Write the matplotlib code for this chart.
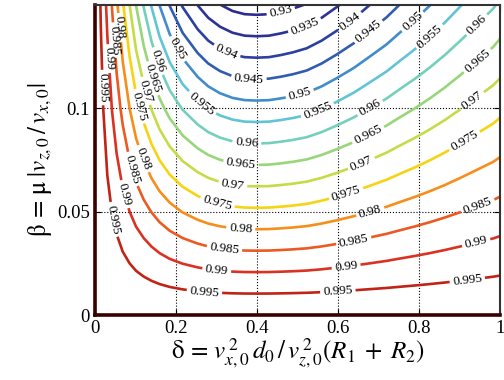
import numpy as np
import matplotlib
matplotlib.use("Agg")
import matplotlib.pyplot as plt

plt.rcParams['font.family'] = 'Liberation Serif'
plt.rcParams['mathtext.fontset'] = 'stix'

delta = [0.0, 0.008, 0.015, 0.031, 0.043, 0.054, 0.069, 0.086, 0.102, 0.121,
         0.140, 0.160, 0.185, 0.217, 0.254, 0.280, 0.309, 0.340, 0.370, 0.400,
         0.430, 0.460, 0.490, 0.523, 0.560, 0.598, 0.640, 0.683, 0.720, 0.753,
         0.790, 0.827, 0.864, 0.901, 0.940, 0.983, 1.0]
# drop of the ratio per unit beta at those delta values
slope = [0.0, 0.019, 0.036, 0.074, 0.102, 0.128, 0.163, 0.200, 0.234, 0.269,
         0.302, 0.334, 0.368, 0.403, 0.434, 0.452, 0.466, 0.476, 0.481, 0.482,
         0.481, 0.477, 0.472, 0.465, 0.452, 0.436, 0.418, 0.398, 0.382, 0.366,
         0.350, 0.334, 0.318, 0.302, 0.286, 0.270, 0.262]
beta = [0.0, 0.05, 0.10, 0.15]

levels = [0.93, 0.935, 0.94, 0.945, 0.95, 0.955, 0.96, 0.965, 0.97, 0.975,
          0.98, 0.985, 0.99, 0.995]
colors = ['#2e2a92', '#2c3394', '#2b40a0', '#305cb2', '#428ccc', '#62c4d6',
          '#74d0bc', '#98d67a', '#c4dc48', '#f6d414', '#f68e1c', '#ec5a22',
          '#da3222', '#c02416']

# where the inline labels sit on each contour
label_pos = {
    0.93: [(0.46, 0.146)],
    0.935: [(0.52, 0.139)],
    0.94: [(0.32, 0.125), (0.63, 0.142)],
    0.945: [(0.38, 0.113), (0.68, 0.136)],
    0.95: [(0.217, 0.13), (0.506, 0.107), (0.78, 0.143)],
    0.955: [(0.25, 0.099), (0.55, 0.099), (0.83, 0.134)],
    0.96: [(0.143, 0.122), (0.375, 0.082), (0.68, 0.100), (0.94, 0.141)],
    0.965: [(0.136, 0.114), (0.36, 0.072), (0.67, 0.089), (0.94, 0.124)],
    0.97: [(0.119, 0.108), (0.34, 0.062), (0.65, 0.077), (0.93, 0.104)],
    0.975: [(0.111, 0.101), (0.30, 0.0525), (0.62, 0.059), (0.91, 0.085)],
    0.98: [(0.057, 0.139), (0.111, 0.075), (0.36, 0.041), (0.68, 0.050)],
    0.985: [(0.05, 0.133), (0.082, 0.070), (0.32, 0.032), (0.64, 0.035),
            (0.945, 0.053)],
    0.99: [(0.032, 0.124), (0.066, 0.058), (0.30, 0.020), (0.62, 0.024),
           (0.94, 0.036)],
    0.995: [(0.012, 0.11), (0.041, 0.046), (0.27, 0.010), (0.6, 0.0115),
            (0.92, 0.016)],
}

Z = 1 - np.outer(beta, slope)

fig = plt.figure(figsize=(5.04, 3.8), dpi=100)
ax = fig.add_axes([0.188, 0.171, 0.804, 0.816])

for lev, col in zip(levels, colors):
    cs = ax.contour(delta, beta, Z, levels=[lev], colors=[col], linewidths=1.9)
    ax.clabel(cs, manual=label_pos[lev], fmt='%g', fontsize=9.5,
              colors='k', inline=True, inline_spacing=3)

ax.set_xlim(0, 1)
ax.set_ylim(0, 0.15)
ax.set_xticks([0, 0.2, 0.4, 0.6, 0.8, 1])
ax.set_xticklabels(['0', '0.2', '0.4', '0.6', '0.8', '1'])
ax.set_yticks([0, 0.05, 0.1])
ax.set_yticklabels(['0', '0.05', '0.1'])
ax.tick_params(direction='in', top=True, right=True, length=4, labelsize=13.5)
ax.grid(True, linestyle=':', color='k', linewidth=0.8)

for side in ['left', 'bottom']:
    ax.spines[side].set_linewidth(2.6)
    ax.spines[side].set_color('#3a0000')
for side in ['top', 'right']:
    ax.spines[side].set_linewidth(1.5)
    ax.spines[side].set_color('#333333')

ax.set_xlabel(r'$\mathrm{\delta}\, =\, v_{x,0}^{\,2}\,d_0\,/\,v_{z,0}^{\,2}(R_1\;+\;R_2)$',
              fontsize=18, labelpad=0)
ax.set_ylabel(r'$\mathrm{\beta}\, =\, \mathrm{\mu}\;|v_{z,0}\,/\,v_{x,0}|$',
              fontsize=18, labelpad=2)

fig.savefig('out.png', dpi=100)
